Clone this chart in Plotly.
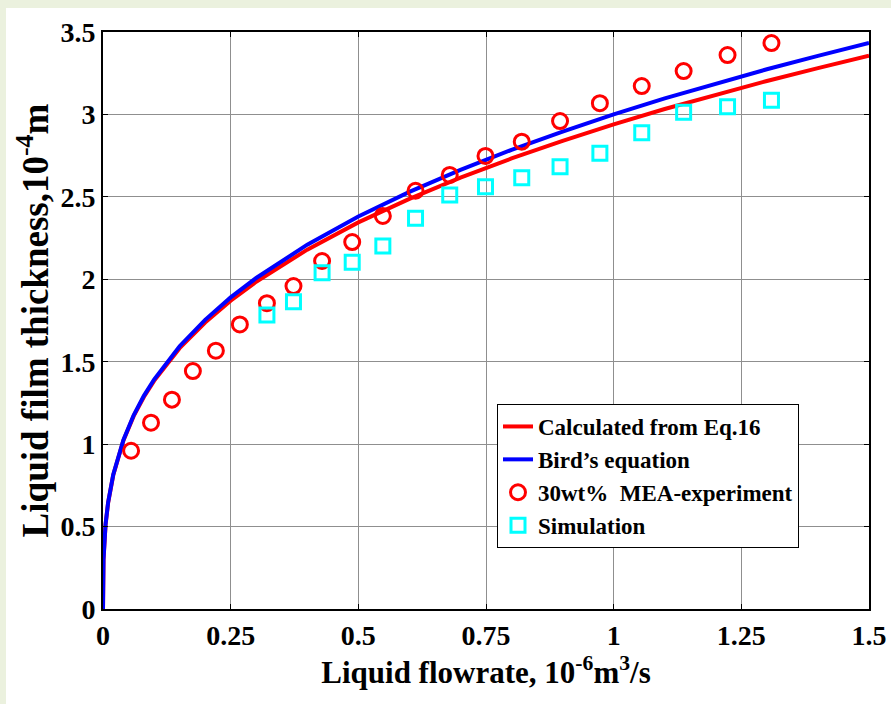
import plotly.graph_objects as go

# curve samples
curve_x = [0, 0.0002, 0.001, 0.005, 0.01, 0.02, 0.04, 0.06, 0.08, 0.1, 0.15, 0.2, 0.25, 0.3,
           0.4, 0.5, 0.6, 0.7, 0.8, 0.9, 1.0, 1.1, 1.2, 1.3, 1.4, 1.5]
eq16_y = [0, 0.175, 0.30, 0.511, 0.644, 0.811, 1.022, 1.170, 1.286, 1.384, 1.582, 1.738, 1.870, 1.985,
          2.180, 2.345, 2.488, 2.617, 2.733, 2.840, 2.940, 3.033, 3.120, 3.203, 3.281, 3.357]
bird_y = [0, 0.176, 0.30, 0.513, 0.646, 0.814, 1.026, 1.175, 1.293, 1.392, 1.594, 1.754, 1.890, 2.008,
          2.210, 2.381, 2.530, 2.664, 2.785, 2.896, 3.000, 3.097, 3.188, 3.274, 3.355, 3.434]

# experiment points
exp_x = [0.055, 0.094, 0.135, 0.176, 0.221, 0.268, 0.321, 0.373, 0.429, 0.488, 0.548, 0.612,
         0.679, 0.749, 0.820, 0.895, 0.973, 1.055, 1.137, 1.223, 1.309]
exp_y = [0.96, 1.13, 1.27, 1.443, 1.567, 1.726, 1.855, 1.959, 2.111, 2.226, 2.384, 2.537,
         2.633, 2.748, 2.835, 2.960, 3.068, 3.172, 3.263, 3.360, 3.433]

# simulation points
sim_x = [0.321, 0.373, 0.429, 0.488, 0.548, 0.612, 0.679, 0.749, 0.820, 0.895, 0.973,
         1.055, 1.137, 1.223, 1.309]
sim_y = [1.783, 1.864, 2.040, 2.103, 2.202, 2.370, 2.511, 2.562, 2.616, 2.683, 2.764,
         2.889, 3.013, 3.047, 3.086]

x_ticks = [0, 0.25, 0.5, 0.75, 1, 1.25, 1.5]
x_tick_labels = ["0", "0.25", "0.5", "0.75", "1", "1.25", "1.5"]
y_ticks = [0, 0.5, 1, 1.5, 2, 2.5, 3, 3.5]
y_tick_labels = ["0", "0.5", "1", "1.5", "2", "2.5", "3", "3.5"]

FONT = "Liberation Serif"

fig = go.Figure()
fig.add_trace(go.Scatter(x=curve_x, y=eq16_y, mode="lines", name="<b>Calculated from Eq.16</b>",
                         line=dict(color="#ff0000", width=4)))
fig.add_trace(go.Scatter(x=curve_x, y=bird_y, mode="lines", name="<b>Bird\u2019s equation</b>",
                         line=dict(color="#0000ff", width=4)))
fig.add_trace(go.Scatter(x=exp_x, y=exp_y, mode="markers", name="<b>30wt%  MEA-experiment</b>",
                         marker=dict(symbol="circle-open", size=15, color="#ff0000",
                                     line=dict(width=3, color="#ff0000"))))
fig.add_trace(go.Scatter(x=sim_x, y=sim_y, mode="markers", name="<b>Simulation</b>",
                         marker=dict(symbol="square-open", size=14, color="#00ffff",
                                     line=dict(width=3, color="#00ffff"))))

L, R, T, B = 103, 22, 32, 95
W, H = 891, 704
pw, ph = W - L - R, H - T - B

fig.add_shape(type="rect", xref="paper", yref="paper", layer="below",
              x0=(6 - L) / pw, x1=2.0, y0=-1.0, y1=(H - B - 8) / ph,
              fillcolor="white", line=dict(width=0))

axis_common = dict(showline=True, linecolor="black", linewidth=2, mirror="ticks",
                   ticks="inside", ticklen=5, tickcolor="black", tickwidth=1,
                   showgrid=True, gridcolor="#8f8f8f", gridwidth=1, zeroline=False,
                   automargin=False,
                   tickfont=dict(family=FONT, size=28, color="black"))

fig.update_xaxes(range=[0, 1.5], tickvals=x_ticks,
                 ticktext=["<b>%s</b>" % t for t in x_tick_labels],
                 title=dict(text="<b>Liquid flowrate, 10<sup>-6</sup>m<sup>3</sup>/s</b>",
                            font=dict(family=FONT, size=31, color="black"), standoff=4),
                 **axis_common)
fig.update_yaxes(range=[0, 3.5], tickvals=y_ticks,
                 ticktext=["<b>%s</b>" % t for t in y_tick_labels],
                 title=dict(text="<b>Liquid film thickness,10<sup>-4</sup>m</b>",
                            font=dict(family=FONT, size=37, color="black"), standoff=0),
                 **axis_common)

fig.update_layout(
    width=W, height=H, autosize=False,
    margin=dict(l=L, r=R, t=T, b=B, autoexpand=False),
    paper_bgcolor="#ebf1de", plot_bgcolor="white",
    font=dict(family=FONT, color="black"),
    legend=dict(x=(497 - L) / pw, y=(H - B - 404) / ph, xanchor="left", yanchor="top",
                bgcolor="white", bordercolor="black", borderwidth=1,
                font=dict(family=FONT, size=23, color="black"),
                itemwidth=30, tracegroupgap=0),
    showlegend=True,
)

fig.write_html("out.html", config={"displayModeBar": False, "responsive": False},
               post_script="document.body.style.margin='0';document.body.style.overflow='hidden';")
